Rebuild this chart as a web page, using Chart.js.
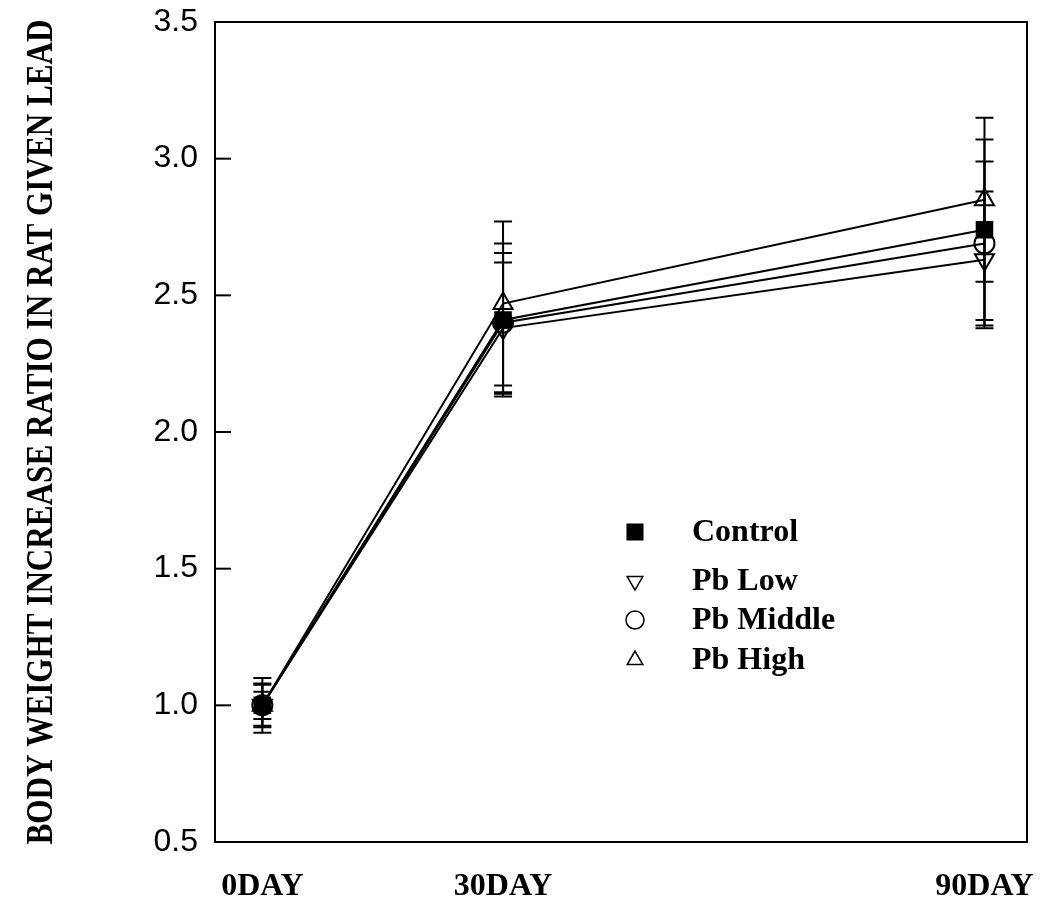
<!DOCTYPE html>
<html>
<head>
<meta charset="utf-8">
<script src="https://cdn.jsdelivr.net/npm/chart.js@4/dist/chart.umd.min.js"></script>
<style>
  body { margin: 0; background: #fff; }
  #wrap { width: 1050px; height: 911px; position: relative; }
</style>
</head>
<body>
<div id="wrap"><canvas id="weightChart"></canvas></div>
<script>
const days = [0, 30, 90];
const xTickLabels = ["0DAY", "30DAY", "90DAY"];
const yTitle = "BODY WEIGHT INCREASE RATIO IN RAT GIVEN LEAD";

const seriesNames = ["Control", "Pb Low", "Pb Middle", "Pb High"];
const controlMean = [1.00, 2.41, 2.74];
const controlErr = [0.08, 0.28, 0.33];
const lowMean = [1.00, 2.38, 2.63];
const lowErr = [0.10, 0.24, 0.25];
const middleMean = [1.00, 2.40, 2.69];
const middleErr = [0.05, 0.255, 0.30];
const highMean = [1.00, 2.47, 2.85];
const highErr = [0.075, 0.30, 0.30];

const means = [controlMean, lowMean, middleMean, highMean];
const errs = [controlErr, lowErr, middleErr, highErr];
const styles = [
  { pointStyle: "rect", radius: 11, rotation: 0, fill: "#000" },
  { pointStyle: "triangle", radius: 11, rotation: 180, fill: "rgba(0,0,0,0)" },
  { pointStyle: "circle", radius: 10, rotation: 0, fill: "rgba(0,0,0,0)" },
  { pointStyle: "triangle", radius: 11, rotation: 0, fill: "rgba(0,0,0,0)" },
];

const datasets = seriesNames.map((name, i) => ({
  label: name,
  data: days.map((d, j) => ({ x: d, y: means[i][j] })),
  borderColor: "#000",
  borderWidth: 2,
  backgroundColor: styles[i].fill,
  pointStyle: styles[i].pointStyle,
  pointRotation: styles[i].rotation,
  pointRadius: styles[i].radius,
  pointBorderWidth: 2,
  pointBorderColor: "#000",
  pointBackgroundColor: styles[i].fill,
  tension: 0,
}));

// error bars, frame, inward y ticks, rotated title, legend inside plot
const decorations = {
  id: "decorations",
  beforeDatasetsDraw(chart) {
    const ctx = chart.ctx;
    const xs = chart.scales.x, ys = chart.scales.y;
    ctx.save();
    ctx.strokeStyle = "#000";
    ctx.lineWidth = 2;
    means.forEach((m, i) => {
      m.forEach((v, j) => {
        const px = xs.getPixelForValue(days[j]);
        const top = ys.getPixelForValue(v + errs[i][j]);
        const bot = ys.getPixelForValue(v - errs[i][j]);
        ctx.beginPath();
        ctx.moveTo(px, top); ctx.lineTo(px, bot);
        ctx.moveTo(px - 9, top); ctx.lineTo(px + 9, top);
        ctx.moveTo(px - 9, bot); ctx.lineTo(px + 9, bot);
        ctx.stroke();
      });
    });
    ctx.restore();
  },
  afterDraw(chart) {
    const ctx = chart.ctx;
    const a = chart.chartArea;
    const ys = chart.scales.y;
    ctx.save();
    ctx.strokeStyle = "#000";
    ctx.lineWidth = 2;
    ctx.strokeRect(a.left, a.top, a.right - a.left, a.bottom - a.top);
    ys.ticks.forEach(t => {
      const py = ys.getPixelForValue(t.value);
      ctx.beginPath();
      ctx.moveTo(a.left, py); ctx.lineTo(a.left + 16, py);
      ctx.stroke();
    });

    // axis title, squeezed along its length like the original
    ctx.fillStyle = "#000";
    ctx.font = "bold 38px 'Liberation Serif', 'Times New Roman', serif";
    ctx.textAlign = "center";
    ctx.textBaseline = "middle";
    const w = ctx.measureText(yTitle).width;
    ctx.translate(42, 432);
    ctx.rotate(-Math.PI / 2);
    ctx.scale(825 / w, 1);
    ctx.fillText(yTitle, 0, 0);
    ctx.restore();

    // legend
    const rows = [532, 581, 620, 660];
    ctx.save();
    ctx.font = "bold 32px 'Liberation Serif', 'Times New Roman', serif";
    ctx.textAlign = "left";
    ctx.textBaseline = "middle";
    seriesNames.forEach((name, i) => {
      ctx.strokeStyle = "#000";
      ctx.fillStyle = styles[i].fill;
      ctx.lineWidth = 1.5;
      Chart.helpers.drawPoint(ctx, {
        pointStyle: styles[i].pointStyle,
        radius: i === 0 ? 11 : 9,
        rotation: styles[i].rotation,
        borderWidth: 1.5,
      }, 635, rows[i]);
      ctx.fillStyle = "#000";
      ctx.fillText(name, 692, rows[i] + 1);
    });
    ctx.restore();
  }
};

new Chart(document.getElementById("weightChart"), {
  type: "line",
  data: { datasets: datasets },
  options: {
    responsive: true,
    maintainAspectRatio: false,
    animation: false,
    layout: { padding: { left: 0, right: 23, top: 22, bottom: 0 } },
    plugins: {
      legend: { display: false },
      tooltip: { enabled: false },
    },
    scales: {
      x: {
        type: "linear",
        min: -5.9,
        max: 95.3,
        afterBuildTicks: scale => {
          scale.ticks = days.map(d => ({ value: d }));
        },
        afterFit: scale => {
          scale.height = 69;
          scale.paddingLeft = 0;
          scale.paddingRight = 0;
        },
        grid: { display: false, drawTicks: false },
        border: { display: false },
        ticks: {
          padding: 26,
          color: "#000",
          maxRotation: 0,
          autoSkip: false,
          font: { family: "'Liberation Serif', 'Times New Roman', serif", size: 32, weight: "bold" },
          callback: v => xTickLabels[days.indexOf(v)],
        },
      },
      y: {
        min: 0.5,
        max: 3.5,
        afterFit: scale => {
          scale.width = 215;
          scale.paddingTop = 0;
          scale.paddingBottom = 0;
        },
        grid: { display: false, drawTicks: false },
        border: { display: false },
        ticks: {
          stepSize: 0.5,
          padding: 17,
          color: "#000",
          font: { family: "'Liberation Sans', Arial, sans-serif", size: 32 },
          callback: v => v.toFixed(1),
        },
      },
    },
  },
  plugins: [decorations],
});
</script>
</body>
</html>
